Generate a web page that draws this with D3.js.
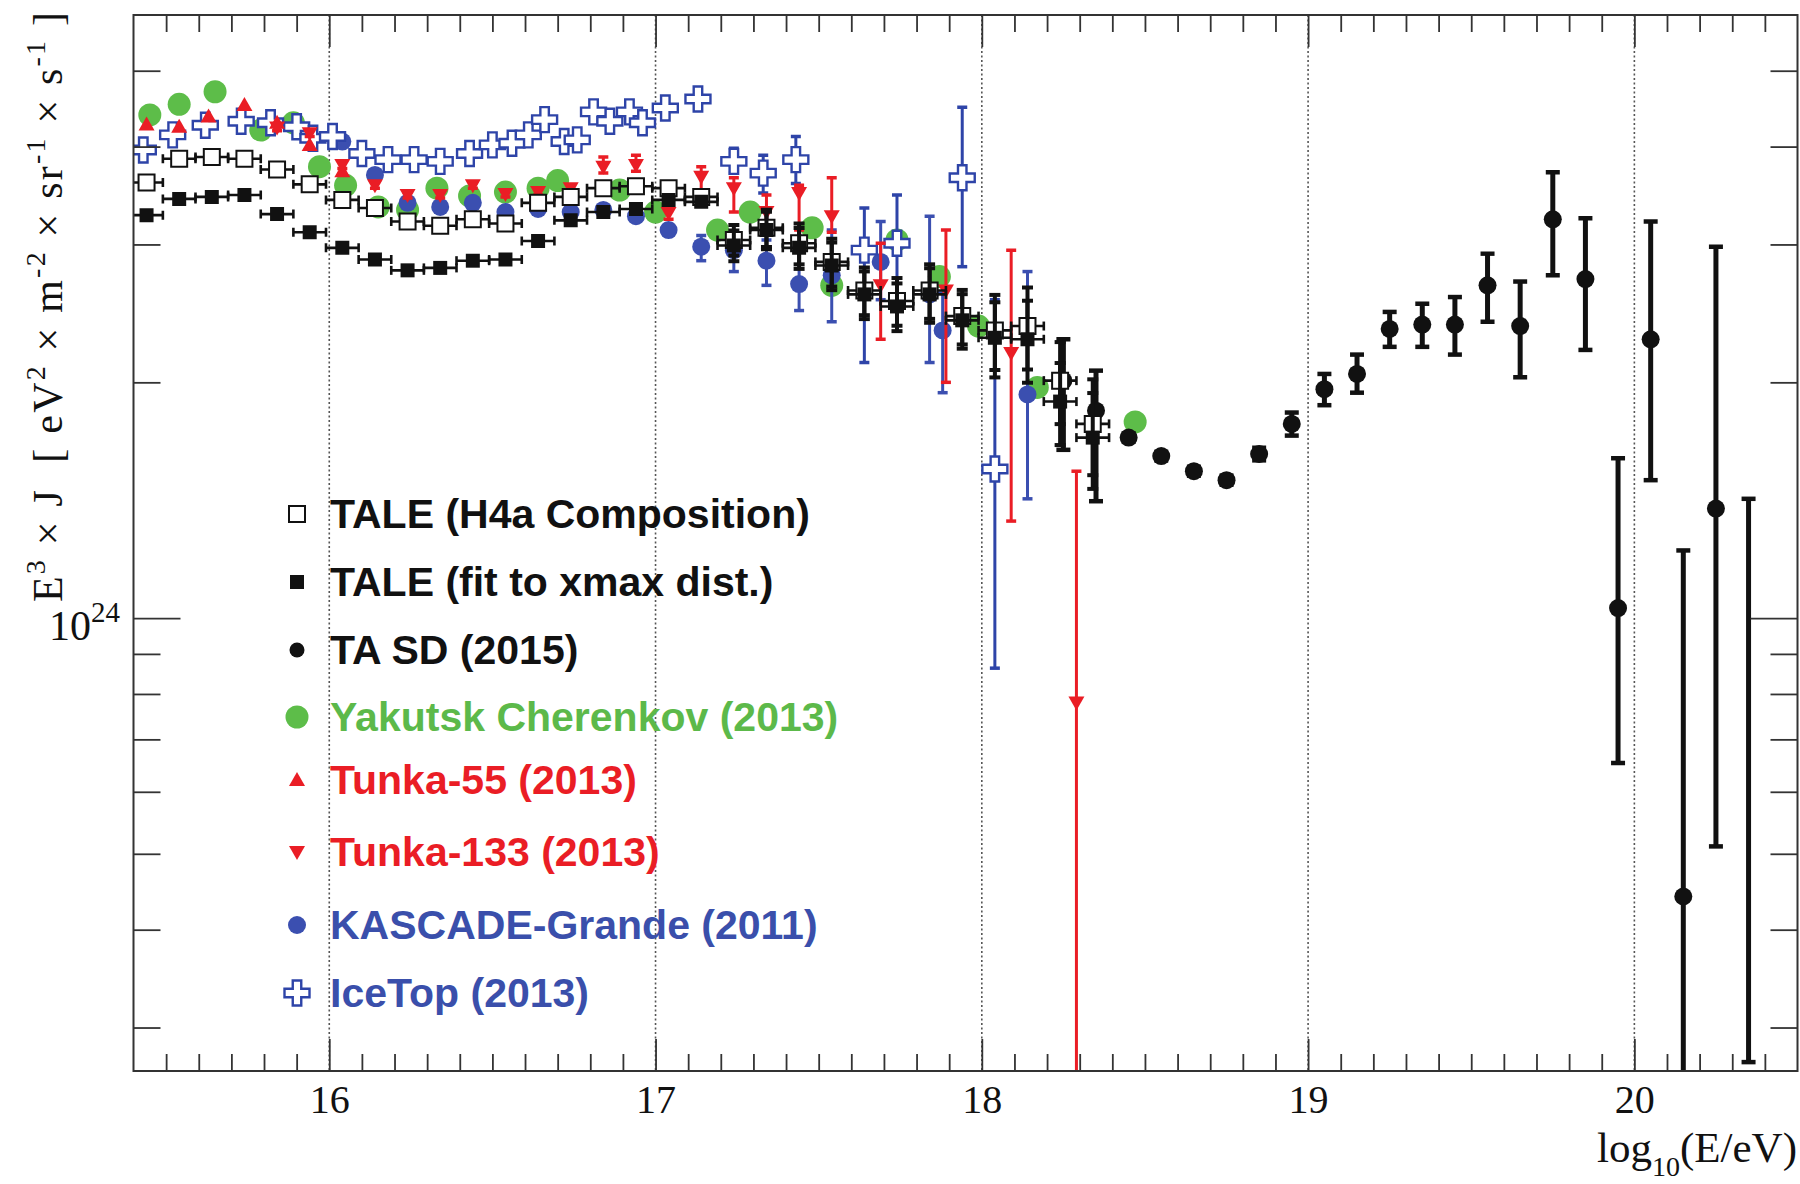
<!DOCTYPE html>
<html>
<head>
<meta charset="utf-8">
<script src="https://cdnjs.cloudflare.com/ajax/libs/d3/7.8.5/d3.min.js"></script>
<style>
  body { margin: 0; background: #fff; }
</style>
</head>
<body>
<script>
// ---- data (E^3 J in units of 1e24 eV^2 m^-2 sr^-1 s^-1, x = log10(E/eV)) ----
var taleE      = [15.44,15.54,15.64,15.74,15.84,15.94,16.04,16.14,16.24,16.34,16.44,16.54,16.64,16.74,16.84,16.94,17.04,17.14,17.24,17.34,17.44,17.54,17.64,17.74,17.84,17.94,18.04,18.14,18.24,18.34];
var taleH4aJ   = [3.60,3.86,3.88,3.86,3.74,3.58,3.42,3.34,3.21,3.17,3.23,3.19,3.39,3.45,3.54,3.56,3.54,3.45,3.04,3.15,3.01,2.85,2.62,2.54,2.62,2.43,2.33,2.36,2.01,1.77];
var taleFitJ   = [3.27,3.43,3.45,3.47,3.28,3.11,2.97,2.87,2.78,2.80,2.86,2.87,3.03,3.22,3.30,3.33,3.42,3.40,2.99,3.13,2.97,2.82,2.59,2.50,2.59,2.40,2.28,2.27,1.89,1.70];
var taleRelErr = [0,0,0,0,0,0,0,0,0,0,0,0,0,0,0,0,0,0,0.045,0.055,0.06,0.07,0.07,0.07,0.08,0.08,0.11,0.12,0.12,0.14];

var taSdE  = [18.25,18.35,18.45,18.55,18.65,18.75,18.85,18.95,19.05,19.15,19.25,19.35,19.45,19.55,19.65,19.75,19.85,19.95,20.05,20.15,20.25,20.35];
var taSdJ  = [2.01,1.84,1.70,1.61,1.54,1.50,1.62,1.77,1.96,2.05,2.34,2.37,2.37,2.66,2.36,3.23,2.71,1.03,2.27,0.441,1.38,null];
var taSdHi = [2.27,2.07,1.72,1.63,1.56,1.52,1.65,1.83,2.05,2.17,2.46,2.52,2.57,2.92,2.69,3.71,3.24,1.60,3.21,1.22,2.98,1.42];
var taSdLo = [1.64,1.41,1.68,1.59,1.52,1.48,1.59,1.71,1.87,1.94,2.22,2.22,2.17,2.39,2.03,2.74,2.20,0.653,1.50,0.10,0.511,0.271];

var yakE = [15.45,15.54,15.65,15.79,15.89,15.97,16.05,16.15,16.24,16.33,16.43,16.54,16.64,16.70,16.89,17.00,17.19,17.29,17.48,17.54,17.74,17.87,17.99,18.17,18.47];
var yakJ = [4.39,4.53,4.70,4.20,4.29,3.77,3.57,3.35,3.32,3.54,3.46,3.50,3.54,3.62,3.52,3.30,3.13,3.30,3.15,2.66,3.04,2.73,2.36,1.97,1.78];

var t55E = [15.44,15.54,15.63,15.74,15.84,15.94,16.04];
var t55J = [4.27,4.24,4.37,4.52,4.29,4.02,3.72];

var t133E  = [15.84,15.94,16.04,16.14,16.24,16.34,16.44,16.54,16.64,16.74,16.84,16.94,17.04,17.14,17.24,17.34,17.44,17.54,17.69,17.89,18.09,18.29];
var t133J  = [4.23,4.16,3.79,3.57,3.47,3.47,3.57,3.48,3.50,3.54,3.77,3.79,3.29,3.66,3.54,3.30,3.49,3.26,2.66,2.62,2.18,0.78];
var t133Hi = [4.27,4.20,3.83,3.60,3.50,3.50,3.60,3.51,3.53,3.57,3.88,3.90,3.35,3.77,3.65,3.47,3.57,3.65,3.01,3.13,2.95,1.54];
var t133Lo = [4.19,4.12,3.75,3.54,3.44,3.44,3.54,3.45,3.47,3.51,3.70,3.72,3.23,3.50,3.30,3.16,3.13,3.11,2.27,2.00,1.33,0.10];

var kgE  = [16.04,16.14,16.24,16.34,16.44,16.54,16.64,16.74,16.84,16.94,17.04,17.14,17.24,17.34,17.44,17.54,17.69,17.84,17.88,18.14];
var kgJ  = [4.06,3.68,3.39,3.35,3.39,3.30,3.33,3.30,3.32,3.26,3.13,2.98,2.95,2.86,2.67,2.74,2.85,2.59,2.33,1.93];
var kgHi = [4.10,3.72,3.42,3.38,3.42,3.33,3.36,3.33,3.35,3.30,3.18,3.08,3.06,3.04,2.99,3.13,3.21,3.26,2.60,2.77];
var kgLo = [4.02,3.64,3.36,3.32,3.36,3.27,3.30,3.27,3.29,3.22,3.08,2.86,2.77,2.66,2.47,2.39,2.55,2.12,1.94,1.42];

var iceE  = [15.43,15.52,15.62,15.73,15.82,15.90,15.95,16.01,16.10,16.18,16.26,16.34,16.43,16.50,16.56,16.61,16.66,16.72,16.76,16.81,16.86,16.92,16.96,17.03,17.13,17.24,17.33,17.43,17.64,17.74,17.94,18.04];
var iceJ  = [3.96,4.14,4.26,4.31,4.29,4.24,4.10,4.12,3.92,3.85,3.85,3.83,3.92,4.02,4.04,4.14,4.33,4.06,4.08,4.43,4.31,4.43,4.29,4.48,4.60,3.83,3.70,3.85,2.95,3.01,3.65,1.55];
var iceHi = [null,null,null,null,null,null,null,null,null,null,null,null,null,null,null,null,null,null,null,null,null,null,null,null,null,3.98,3.90,4.12,3.34,3.47,4.49,2.55];
var iceLo = [null,null,null,null,null,null,null,null,null,null,null,null,null,null,null,null,null,null,null,null,null,null,null,null,null,3.70,3.49,3.59,2.12,2.50,2.81,0.863];

var xMajor = [16, 17, 18, 19, 20];
var xTickLabels = ["16", "17", "18", "19", "20"];
var yMajor = [1];
var yMinor = [0.3, 0.4, 0.5, 0.6, 0.7, 0.8, 0.9, 2, 3, 4, 5];

var legendLabels = ["TALE (H4a Composition)", "TALE (fit to xmax dist.)", "TA SD (2015)",
  "Yakutsk Cherenkov (2013)", "Tunka-55 (2013)", "Tunka-133 (2013)",
  "KASCADE-Grande (2011)", "IceTop (2013)"];

// ---- layout / style ----
var W = 1800, H = 1184;
var plotL = 133.5, plotR = 1797.5, plotT = 15, plotB = 1071;
var SERIF = "'Liberation Serif', 'Times New Roman', serif";
var SANS = "'Liberation Sans', Arial, Helvetica, sans-serif";
var GREEN = "#5dbd49", RED = "#ea1d25", KGBLUE = "#3b4fb0", ICEBLUE = "#2e44a8", BLACK = "#111";

var x = d3.scaleLinear().domain([15.4, 20.5]).range([plotL, plotR]);
var y = d3.scaleLog().domain([0.264, 5.89]).range([plotB, plotT]);

var svg = d3.select("body").append("svg").attr("width", W).attr("height", H);
svg.append("rect").attr("width", W).attr("height", H).attr("fill", "#fff");
svg.append("defs").append("clipPath").attr("id", "plotclip").append("rect")
  .attr("x", plotL).attr("y", plotT).attr("width", plotR - plotL).attr("height", plotB - plotT);

// dotted vertical grid
svg.append("g").selectAll("line").data(xMajor).enter().append("line")
  .attr("x1", function(d) { return x(d); }).attr("x2", function(d) { return x(d); })
  .attr("y1", plotT).attr("y2", plotB)
  .attr("stroke", "#555").attr("stroke-width", 1.6).attr("stroke-dasharray", "2,2.5");

function shapePath(shape, s) {
  var h = s / 2;
  if (shape === "square") return "M" + (-h) + "," + (-h) + "h" + s + "v" + s + "h" + (-s) + "Z";
  if (shape === "circle") return d3.symbol(d3.symbolCircle, Math.PI * h * h)();
  if (shape === "triUp") return "M0," + (-h) + "L" + h + "," + (h * 0.75) + "L" + (-h) + "," + (h * 0.75) + "Z";
  if (shape === "triDown") return "M0," + h + "L" + h + "," + (-h * 0.75) + "L" + (-h) + "," + (-h * 0.75) + "Z";
  if (shape === "cross") {
    var a = s * 0.17;
    return "M" + (-a) + "," + (-h) + "H" + a + "V" + (-a) + "H" + h + "V" + a + "H" + a + "V" + h +
      "H" + (-a) + "V" + a + "H" + (-h) + "V" + (-a) + "H" + (-a) + "Z";
  }
}

var styles = {
  taleH4a: {shape: "square", size: 16, fill: "#fff", stroke: BLACK, sw: 2},
  taleFit: {shape: "square", size: 14, fill: BLACK, stroke: "none", sw: 0},
  taSd:    {shape: "circle", size: 18, fill: BLACK, stroke: "none", sw: 0},
  yak:     {shape: "circle", size: 23, fill: GREEN, stroke: "none", sw: 0},
  t55:     {shape: "triUp", size: 16, fill: RED, stroke: "none", sw: 0},
  t133:    {shape: "triDown", size: 16, fill: RED, stroke: "none", sw: 0},
  kg:      {shape: "circle", size: 18, fill: KGBLUE, stroke: "none", sw: 0},
  ice:     {shape: "cross", size: 25, fill: "#fff", stroke: ICEBLUE, sw: 2.4}
};

function buildPoints(E, J, hi, lo, rel) {
  return E.map(function(e, i) {
    var p = {E: e, J: J[i], hi: null, lo: null};
    if (hi && hi[i] != null) { p.hi = hi[i]; p.lo = lo[i]; }
    if (rel && rel[i] > 0) { p.hi = J[i] * (1 + rel[i]); p.lo = J[i] * (1 - rel[i]); }
    return p;
  });
}

var dataG = svg.append("g").attr("clip-path", "url(#plotclip)");

function drawSeries(pts, st, err) {
  var g = dataG.append("g");
  if (err) {
    var ep = pts.filter(function(d) { return d.hi != null; });
    g.selectAll(null).data(ep).enter().append("line")
      .attr("x1", function(d) { return x(d.E); }).attr("x2", function(d) { return x(d.E); })
      .attr("y1", function(d) { return y(d.hi); }).attr("y2", function(d) { return y(d.lo); })
      .attr("stroke", err.color).attr("stroke-width", err.w);
    ["hi", "lo"].forEach(function(k) {
      g.selectAll(null).data(ep).enter().append("line")
        .attr("x1", function(d) { return x(d.E) - err.cap / 2; })
        .attr("x2", function(d) { return x(d.E) + err.cap / 2; })
        .attr("y1", function(d) { return y(d[k]); }).attr("y2", function(d) { return y(d[k]); })
        .attr("stroke", err.color).attr("stroke-width", err.capW);
    });
  }
  if (err && err.xerr) {
    g.selectAll(null).data(pts).enter().append("line")
      .attr("x1", function(d) { return x(d.E - err.xerr); }).attr("x2", function(d) { return x(d.E + err.xerr); })
      .attr("y1", function(d) { return y(d.J); }).attr("y2", function(d) { return y(d.J); })
      .attr("stroke", err.color).attr("stroke-width", 2.6);
    [-1, 1].forEach(function(sgn) {
      g.selectAll(null).data(pts).enter().append("line")
        .attr("x1", function(d) { return x(d.E + sgn * err.xerr); })
        .attr("x2", function(d) { return x(d.E + sgn * err.xerr); })
        .attr("y1", function(d) { return y(d.J) - 4.5; }).attr("y2", function(d) { return y(d.J) + 4.5; })
        .attr("stroke", err.color).attr("stroke-width", 2.6);
    });
  }
  g.selectAll(null).data(pts.filter(function(d) { return d.J != null; })).enter().append("path")
    .attr("d", shapePath(st.shape, st.size))
    .attr("transform", function(d) { return "translate(" + x(d.E) + "," + y(d.J) + ")"; })
    .attr("fill", st.fill).attr("stroke", st.stroke).attr("stroke-width", st.sw);
}

drawSeries(buildPoints(yakE, yakJ), styles.yak, null);
drawSeries(buildPoints(kgE, kgJ, kgHi, kgLo), styles.kg, {color: KGBLUE, w: 3, cap: 10, capW: 3.5});
drawSeries(buildPoints(iceE, iceJ, iceHi, iceLo), styles.ice, {color: ICEBLUE, w: 3, cap: 10, capW: 3.5});
drawSeries(buildPoints(t55E, t55J), styles.t55, null);
drawSeries(buildPoints(t133E, t133J, t133Hi, t133Lo), styles.t133, {color: RED, w: 3, cap: 10, capW: 3.5});
drawSeries(buildPoints(taSdE, taSdJ, taSdHi, taSdLo), styles.taSd, {color: BLACK, w: 5, cap: 14, capW: 4.5});
drawSeries(buildPoints(taleE, taleH4aJ, null, null, taleRelErr), styles.taleH4a, {color: BLACK, w: 4, cap: 11, capW: 4, xerr: 0.05});
drawSeries(buildPoints(taleE, taleFitJ, null, null, taleRelErr), styles.taleFit, {color: BLACK, w: 4, cap: 11, capW: 4, xerr: 0.05});

// ---- axes (ROOT style, ticks inward on all four sides) ----
function styleAxis(g) {
  g.select(".domain").remove();
  g.selectAll("line").attr("stroke", "#333").attr("stroke-width", 1.8);
  g.selectAll("text").attr("font-family", SERIF).attr("font-size", 40).attr("fill", BLACK);
}
var xMinor = d3.range(155, 205).map(function(v) { return v / 10; })
  .filter(function(v) { return Math.abs(v - Math.round(v)) > 1e-6; });

svg.append("g").attr("transform", "translate(0," + plotB + ")")
  .call(d3.axisBottom(x).tickValues(xMajor).tickSize(-32).tickPadding(14)
    .tickFormat(function(d, i) { return xTickLabels[i]; }))
  .call(styleAxis);
svg.append("g").attr("transform", "translate(0," + plotB + ")")
  .call(d3.axisBottom(x).tickValues(xMinor).tickSize(-17).tickFormat("")).call(styleAxis);
svg.append("g").attr("transform", "translate(0," + plotT + ")")
  .call(d3.axisTop(x).tickValues(xMajor).tickSize(-32).tickFormat("")).call(styleAxis);
svg.append("g").attr("transform", "translate(0," + plotT + ")")
  .call(d3.axisTop(x).tickValues(xMinor).tickSize(-17).tickFormat("")).call(styleAxis);

svg.append("g").attr("transform", "translate(" + plotL + ",0)")
  .call(d3.axisLeft(y).tickValues(yMajor).tickSize(-47).tickFormat("")).call(styleAxis);
svg.append("g").attr("transform", "translate(" + plotL + ",0)")
  .call(d3.axisLeft(y).tickValues(yMinor).tickSize(-27).tickFormat("")).call(styleAxis);
svg.append("g").attr("transform", "translate(" + plotR + ",0)")
  .call(d3.axisRight(y).tickValues(yMajor).tickSize(-47).tickFormat("")).call(styleAxis);
svg.append("g").attr("transform", "translate(" + plotR + ",0)")
  .call(d3.axisRight(y).tickValues(yMinor).tickSize(-27).tickFormat("")).call(styleAxis);

svg.append("rect").attr("x", plotL).attr("y", plotT)
  .attr("width", plotR - plotL).attr("height", plotB - plotT)
  .attr("fill", "none").attr("stroke", "#333").attr("stroke-width", 2);

// 10^24 label
var yl = svg.append("text").attr("x", 120).attr("y", y(1) + 22)
  .attr("text-anchor", "end").attr("font-family", SERIF).attr("font-size", 42).attr("fill", BLACK);
yl.append("tspan").text("10");
yl.append("tspan").attr("font-size", 29).attr("dy", -18).text("24");

// x title
var xt = svg.append("text").attr("x", 1797).attr("y", 1162)
  .attr("text-anchor", "end").attr("font-family", SERIF).attr("font-size", 43).attr("fill", BLACK);
xt.append("tspan").text("log");
xt.append("tspan").attr("font-size", 28).attr("dy", 14).text("10");
xt.append("tspan").attr("dy", -14).text("(E/eV)");

// y title
var yt = svg.append("text").attr("transform", "translate(62,12) rotate(-90)")
  .attr("text-anchor", "end").attr("font-family", SERIF).attr("font-size", 42).attr("fill", BLACK)
  .attr("textLength", 590).attr("lengthAdjust", "spacing");
var ytParts = [["E", 0], ["3", 1], ["\u00a0\u00d7\u00a0J\u00a0\u00a0[\u00a0eV", 0], ["2", 1],
  ["\u00a0\u00d7\u00a0m", 0], ["-2", 1], ["\u00a0\u00d7\u00a0sr", 0], ["-1", 1],
  ["\u00a0\u00d7\u00a0s", 0], ["-1", 1], ["\u00a0]", 0]];
var prevSup = 0;
ytParts.forEach(function(p) {
  var t = yt.append("tspan").text(p[0]);
  if (p[1]) t.attr("font-size", 28);
  if (p[1] !== prevSup) t.attr("dy", p[1] ? -17 : 17);
  prevSup = p[1];
});

// ---- legend ----
var legendRowY = [514, 582, 650, 717, 780, 852, 925, 993];
var legendStyles = [styles.taleH4a, styles.taleFit, styles.taSd, styles.yak, styles.t55, styles.t133, styles.kg, styles.ice];
var legendColors = [BLACK, BLACK, BLACK, "#5cb94a", RED, RED, "#3a4fab", "#3a4fab"];
var lg = svg.append("g");
legendLabels.forEach(function(lab, i) {
  var st = legendStyles[i];
  var sz = (i === 2) ? 15 : st.size;
  lg.append("path").attr("d", shapePath(st.shape, sz))
    .attr("transform", "translate(297," + legendRowY[i] + ")")
    .attr("fill", st.fill).attr("stroke", st.stroke).attr("stroke-width", st.sw);
  lg.append("text").attr("x", 330).attr("y", legendRowY[i] + 14)
    .attr("font-family", SANS).attr("font-weight", "bold").attr("font-size", 41)
    .attr("fill", legendColors[i]).text(lab);
});
</script>
</body>
</html>
